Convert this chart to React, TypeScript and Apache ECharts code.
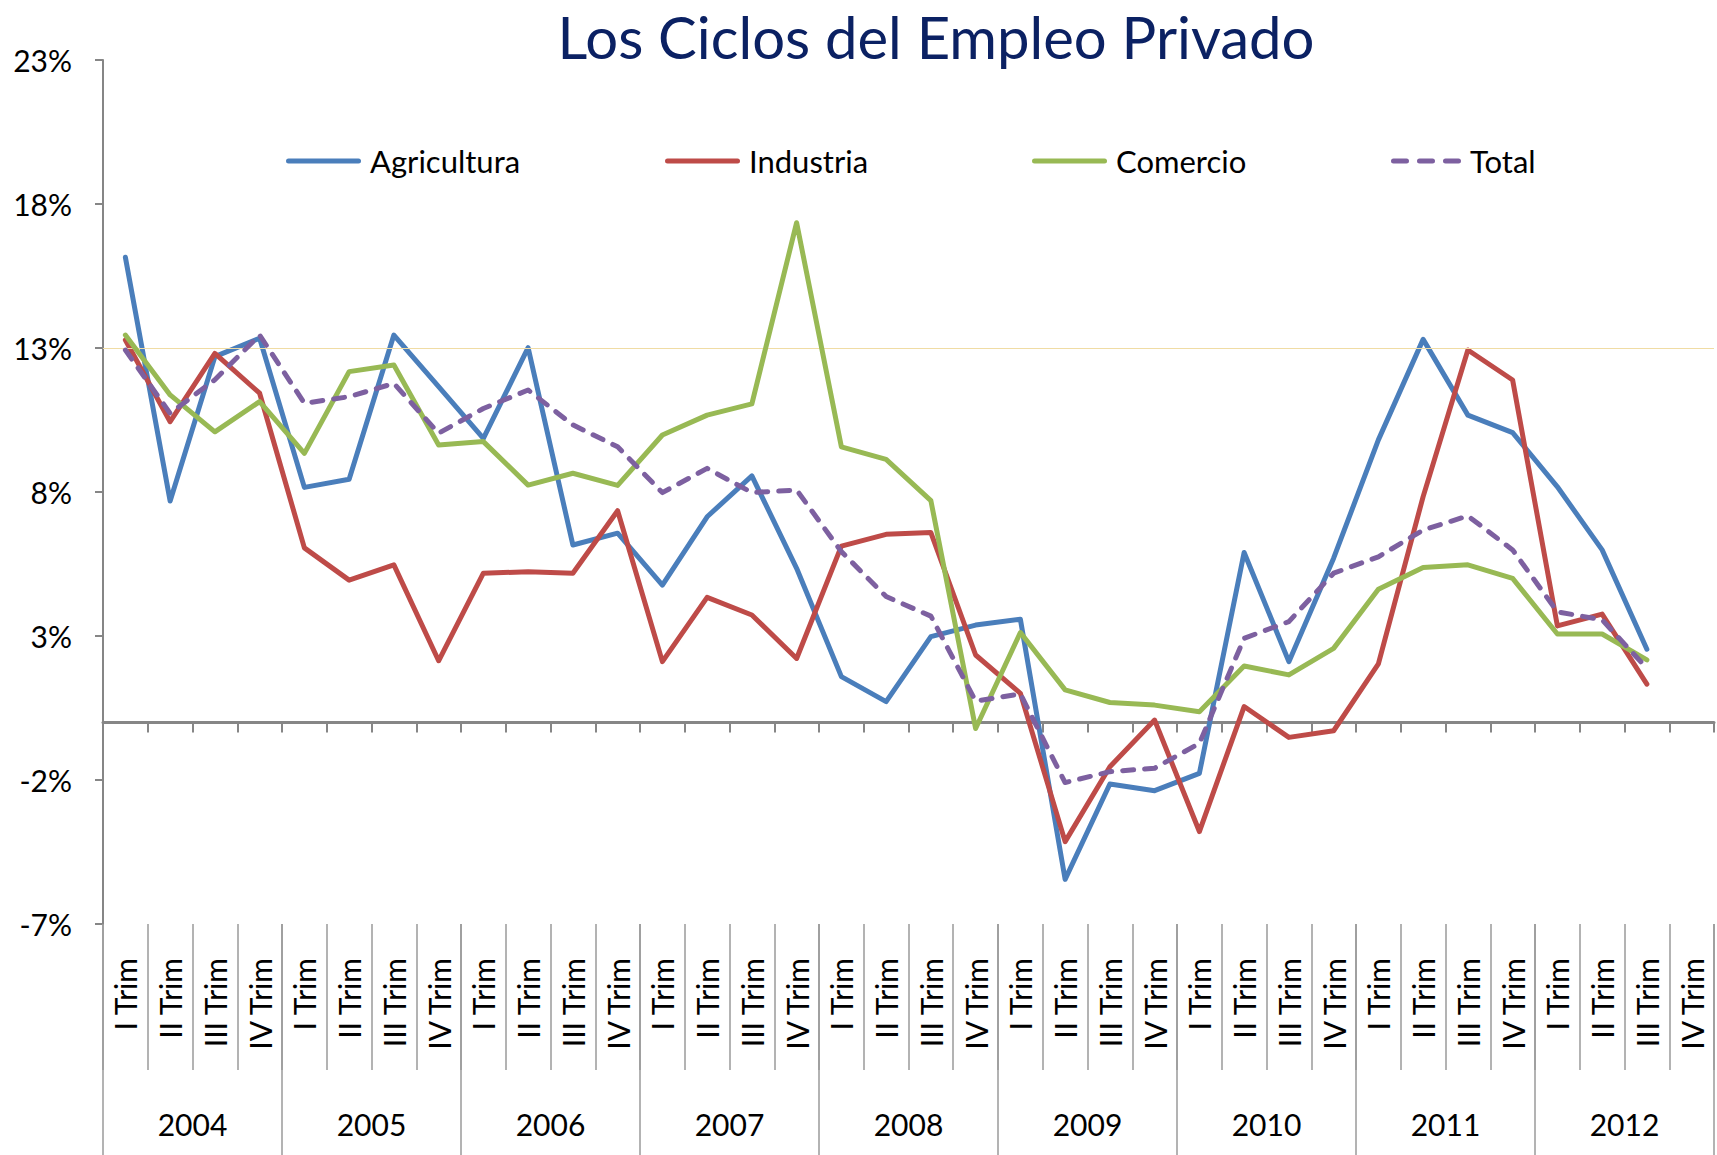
import React, { useEffect, useRef } from 'react';
import * as echarts from 'echarts';

const years = ['2004', '2005', '2006', '2007', '2008', '2009', '2010', '2011', '2012'];
const quarters = ['I Trim', 'II Trim', 'III Trim', 'IV Trim'];

const agricultura = [16.15, 7.69, 12.7, 13.34, 8.16, 8.44, 13.45, 11.66, 9.86, 13.01, 6.16, 6.57, 4.77, 7.14, 8.56, 5.35, 1.59, 0.72, 2.98, 3.38, 3.58, -5.45, -2.14, -2.37, -1.77, 5.9, 2.11, 5.7, 9.81, 13.3, 10.67, 10.06, 8.18, 5.99, 2.54];
const industria = [13.28, 10.44, 12.81, 11.43, 6.06, 4.94, 5.47, 2.14, 5.18, 5.23, 5.18, 7.35, 2.11, 4.34, 3.73, 2.22, 6.12, 6.53, 6.59, 2.34, 1.01, -4.14, -1.54, 0.08, -3.79, 0.55, -0.52, -0.29, 2.03, 7.84, 12.93, 11.89, 3.35, 3.76, 1.33];
const comercio = [13.45, 11.37, 10.09, 11.14, 9.34, 12.18, 12.41, 9.63, 9.75, 8.24, 8.65, 8.23, 9.98, 10.67, 11.06, 17.35, 9.57, 9.13, 7.7, -0.21, 3.12, 1.13, 0.69, 0.6, 0.37, 1.96, 1.65, 2.57, 4.62, 5.38, 5.47, 5.0, 3.07, 3.07, 2.17];
const total = [12.93, 10.73, 11.9, 13.45, 11.08, 11.31, 11.77, 10.04, 10.9, 11.54, 10.33, 9.57, 7.98, 8.82, 7.98, 8.07, 5.93, 4.37, 3.69, 0.74, 0.99, -2.09, -1.71, -1.59, -0.73, 2.92, 3.5, 5.18, 5.75, 6.68, 7.17, 5.99, 3.84, 3.56, 1.88];

const yMin = -7;
const yMax = 23;
const yStep = 5;
const referenceLevel = 13;

const title = 'Los Ciclos del Empleo Privado';
const seriesNames = ['Agricultura', 'Industria', 'Comercio', 'Total'];
const seriesColors = ['#4A7EBB', '#BE4B48', '#98B954', '#7D60A0'];

export default function App() {
  const ref = useRef<HTMLDivElement>(null);

  useEffect(() => {
    const el = ref.current;
    if (!el) return;
    const chart = echarts.init(el, null, { renderer: 'svg' });
    const font = 'Lato';
    const axisGrey = '#868686';
    const sepGrey = '#9a9a9a';
    const categories = years.flatMap(() => quarters);
    const values = [agricultura, industria, comercio, total];

    const series: any[] = seriesNames.map((name, i) => ({
      type: 'line',
      name,
      data: values[i],
      xAxisIndex: 0,
      yAxisIndex: 0,
      symbol: 'none',
      showSymbol: false,
      lineStyle: {
        color: seriesColors[i],
        width: 5,
        type: i === 3 ? [11, 11] : 'solid',
        cap: 'round',
        join: 'round',
      },
      itemStyle: { color: seriesColors[i] },
      z: 3 + i,
    }));
    series[0].markLine = {
      silent: true,
      symbol: 'none',
      label: { show: false },
      lineStyle: { color: '#F0DCA4', width: 1.2, type: 'solid' },
      data: [{ yAxis: referenceLevel }],
    };

    const solidIcon = 'path://M2.5,0H72.5A2.5,2.5,0,0,1,72.5,5H2.5A2.5,2.5,0,0,1,2.5,0Z';
    const dashIcon =
      'path://M2.5,0H15.5A2.5,2.5,0,0,1,15.5,5H2.5A2.5,2.5,0,0,1,2.5,0Z' +
      'M28.5,0H41.5A2.5,2.5,0,0,1,41.5,5H28.5A2.5,2.5,0,0,1,28.5,0Z' +
      'M54.5,0H67.5A2.5,2.5,0,0,1,67.5,5H54.5A2.5,2.5,0,0,1,54.5,0Z';
    const legendLeft = [281, 660, 1027, 1386];
    const legends = seriesNames.map((name, i) => ({
      data: [{ name, icon: i === 3 ? dashIcon : solidIcon }],
      left: legendLeft[i],
      top: 139,
      itemWidth: i === 3 ? 70 : 75,
      itemHeight: 5,
      itemGap: 0,
      selectedMode: false,
      textStyle: { fontFamily: font, fontSize: 31, color: '#000', lineHeight: 34, padding: [0, 0, 0, 4] },
    }));

    chart.setOption({
      animation: false,
      backgroundColor: '#fff',
      grid: { left: 103, right: 3, top: 60, bottom: 231, containLabel: false },
      legend: legends,
      graphic: [
        {
          type: 'text',
          x: 936,
          y: 6,
          style: {
            text: title,
            fontFamily: font,
            fontSize: 58,
            lineHeight: 60,
            fill: '#0B2163',
            textAlign: 'center',
            textVerticalAlign: 'top',
          },
        },
      ],
      xAxis: [
        {
          type: 'category',
          data: categories,
          position: 'bottom',
          boundaryGap: true,
          axisLine: { show: false, onZero: false },
          axisTick: { show: true, length: 146, lineStyle: { color: sepGrey, width: 1.5 } },
          axisLabel: { rotate: 90, margin: 34, interval: 0, fontFamily: font, fontSize: 30, color: '#000' },
          splitLine: { show: false },
        },
        {
          type: 'category',
          data: categories,
          position: 'bottom',
          boundaryGap: true,
          axisLine: { show: true, onZero: true, lineStyle: { color: axisGrey, width: 3 } },
          axisTick: { show: true, length: 10, interval: 0, lineStyle: { color: axisGrey, width: 2 } },
          axisLabel: { show: false },
          splitLine: { show: false },
        },
        {
          type: 'category',
          data: years,
          position: 'bottom',
          boundaryGap: true,
          axisLine: { show: false, onZero: false },
          axisTick: { show: true, length: 231, lineStyle: { color: sepGrey, width: 1.5 } },
          axisLabel: { margin: 185, interval: 0, fontFamily: font, fontSize: 30, color: '#000' },
          splitLine: { show: false },
        },
      ],
      yAxis: {
        type: 'value',
        min: yMin,
        max: yMax,
        interval: yStep,
        axisLine: { show: true, lineStyle: { color: axisGrey, width: 2 } },
        axisTick: { show: true, length: 8, lineStyle: { color: axisGrey, width: 2 } },
        axisLabel: { formatter: '{value}%', fontFamily: font, fontSize: 30, color: '#000', margin: 31 },
        splitLine: { show: false },
      },
      series,
    });

    return () => chart.dispose();
  }, []);

  return <div ref={ref} style={{ position: 'absolute', left: 0, top: 0, width: 1717, height: 1155 }} />;
}
